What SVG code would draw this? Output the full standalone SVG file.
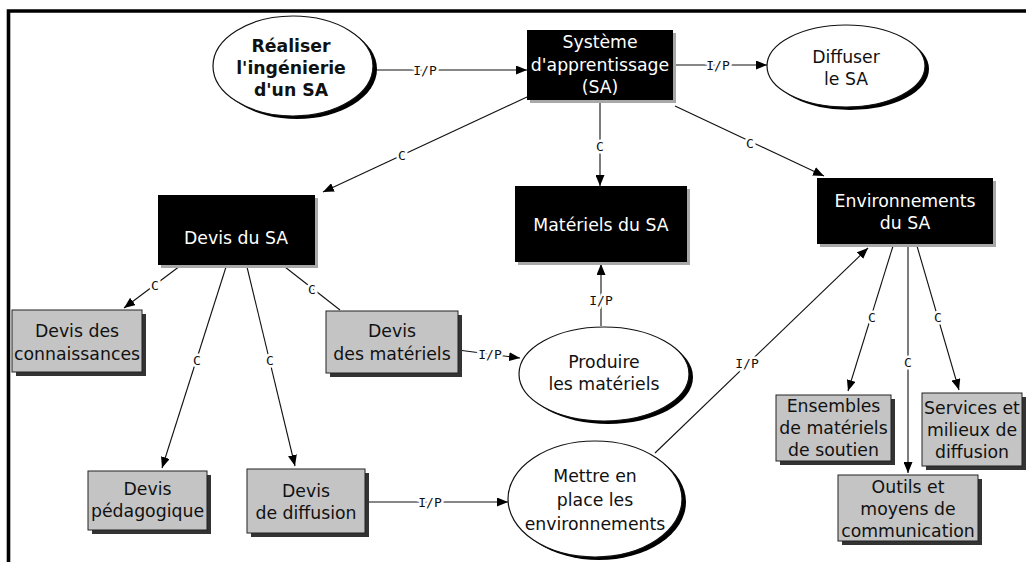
<svg xmlns="http://www.w3.org/2000/svg" width="1026" height="562" viewBox="0 0 1026 562">
<defs>
<marker id="ah" markerUnits="userSpaceOnUse" markerWidth="11" markerHeight="9" refX="11" refY="4.5" orient="auto">
<path d="M0,0 L11,4.5 L0,9 z" fill="#000"/>
</marker>
<style>
.t{font-family:"DejaVu Sans","Verdana",sans-serif;font-size:17.3px;text-anchor:middle;fill:#111}
.tw{font-family:"DejaVu Sans","Verdana",sans-serif;font-size:17.3px;text-anchor:middle;fill:#fff}
.tb{font-family:"DejaVu Sans","Verdana",sans-serif;font-size:17.3px;font-weight:bold;text-anchor:middle;fill:#111}
.blk{fill:#000}
.blks{fill:#a8a8a8}
.gry{fill:#c4c4c4;stroke:#222;stroke-width:1}
.gsh{fill:#333}
.ell{fill:#fff;stroke:#111;stroke-width:1.2}
.esh{fill:#000}
.c{fill:none;stroke:#111;stroke-width:1.1}
.ca{fill:none;stroke:#111;stroke-width:1.1;marker-end:url(#ah)}
.lbl{font-family:"DejaVu Sans Mono",monospace;font-size:13px;text-anchor:middle;dominant-baseline:central;fill:#111;stroke:#fff;stroke-width:5;paint-order:stroke}
</style>
</defs>
<rect width="1026" height="562" fill="#fff"/>
<path d="M8.5,562 V11 H1026" fill="none" stroke="#000" stroke-width="3.6"/>

<g id="connectors">
<path class="ca" d="M373,70 H527"/>
<path class="ca" d="M673,65 H767"/>
<path class="ca" d="M527,97 L323,192"/>
<path class="ca" d="M600,100 V186"/>
<path class="ca" d="M675,106 L824,176"/>
<path class="ca" d="M180,266 L124,308"/>
<path class="c" d="M285,267 L340,310"/>
<path class="ca" d="M226,267 L162,468"/>
<path class="ca" d="M247,267 L295,466"/>
<path class="ca" d="M458,350 L520,358"/>
<path class="ca" d="M601,326 V264"/>
<path class="ca" d="M365,502 H508"/>
<path class="ca" d="M655,453 L868,248"/>
<path class="ca" d="M893,246 L848,391"/>
<path class="ca" d="M908,246 V473"/>
<path class="ca" d="M917,246 L959,390"/>
<text class="lbl" x="425" y="70">I/P</text>
<text class="lbl" x="718" y="65">I/P</text>
<text class="lbl" x="402" y="155">C</text>
<text class="lbl" x="600" y="146">C</text>
<text class="lbl" x="750" y="143">C</text>
<text class="lbl" x="155" y="285">C</text>
<text class="lbl" x="312" y="289">C</text>
<text class="lbl" x="197" y="360">C</text>
<text class="lbl" x="270" y="360">C</text>
<text class="lbl" x="490" y="354">I/P</text>
<text class="lbl" x="601" y="300">I/P</text>
<text class="lbl" x="430" y="502">I/P</text>
<text class="lbl" x="747" y="363">I/P</text>
<text class="lbl" x="872" y="317">C</text>
<text class="lbl" x="908" y="362">C</text>
<text class="lbl" x="938" y="317">C</text>
</g>

<g id="realiser">
<ellipse class="esh" cx="297" cy="69" rx="80" ry="50"/>
<ellipse class="ell" cx="293" cy="66" rx="80" ry="50"/>
<text class="tb" x="291" y="52">Réaliser</text>
<text class="tb" x="291" y="74">l'ingénierie</text>
<text class="tb" x="291" y="96">d'un SA</text>
</g>

<g id="systeme">
<rect class="blks" x="530" y="33" width="146" height="70"/>
<rect class="blk" x="527" y="30" width="146" height="70"/>
<text class="tw" x="600" y="48">Système</text>
<text class="tw" x="600" y="71">d'apprentissage</text>
<text class="tw" x="600" y="93">(SA)</text>
</g>

<g id="diffuser">
<ellipse class="esh" cx="850" cy="69" rx="79" ry="41"/>
<ellipse class="ell" cx="846" cy="66" rx="79" ry="41"/>
<text class="t" x="846" y="63">Diffuser</text>
<text class="t" x="846" y="85">le SA</text>
</g>

<g id="devis-sa">
<rect class="blks" x="161" y="198" width="157" height="70"/>
<rect class="blk" x="158" y="195" width="157" height="70"/>
<text class="tw" x="236" y="244">Devis du SA</text>
</g>

<g id="materiels-sa">
<rect class="blks" x="518" y="189" width="172" height="76"/>
<rect class="blk" x="515" y="186" width="172" height="76"/>
<text class="tw" x="601" y="231">Matériels du SA</text>
</g>

<g id="environnements-sa">
<rect class="blks" x="820" y="181" width="176" height="66"/>
<rect class="blk" x="817" y="178" width="176" height="66"/>
<text class="tw" x="905" y="207">Environnements</text>
<text class="tw" x="905" y="229">du SA</text>
</g>

<g id="devis-connaissances">
<rect class="gsh" x="16" y="314" width="130" height="62"/>
<rect class="gry" x="12" y="310" width="130" height="62"/>
<text class="t" x="77" y="337">Devis des</text>
<text class="t" x="77" y="360">connaissances</text>
</g>

<g id="devis-materiels">
<rect class="gsh" x="330" y="315" width="132" height="62"/>
<rect class="gry" x="326" y="311" width="132" height="62"/>
<text class="t" x="392" y="337">Devis</text>
<text class="t" x="392" y="360">des matériels</text>
</g>

<g id="devis-pedagogique">
<rect class="gsh" x="92" y="475" width="119" height="59"/>
<rect class="gry" x="88" y="471" width="119" height="59"/>
<text class="t" x="147.5" y="495">Devis</text>
<text class="t" x="147.5" y="517">pédagogique</text>
</g>

<g id="devis-diffusion">
<rect class="gsh" x="251" y="473" width="118" height="64"/>
<rect class="gry" x="247" y="469" width="118" height="64"/>
<text class="t" x="306" y="497">Devis</text>
<text class="t" x="306" y="519">de diffusion</text>
</g>

<g id="produire">
<ellipse class="esh" cx="608" cy="377" rx="85" ry="47"/>
<ellipse class="ell" cx="604" cy="374" rx="85" ry="47"/>
<text class="t" x="604" y="368">Produire</text>
<text class="t" x="604" y="390">les matériels</text>
</g>

<g id="mettre">
<ellipse class="esh" cx="599" cy="502" rx="87" ry="58"/>
<ellipse class="ell" cx="595" cy="499" rx="87" ry="58"/>
<text class="t" x="595" y="482">Mettre en</text>
<text class="t" x="595" y="506">place les</text>
<text class="t" x="595" y="530">environnements</text>
</g>

<g id="ensembles">
<rect class="gsh" x="780" y="399" width="115" height="66"/>
<rect class="gry" x="776" y="395" width="115" height="66"/>
<text class="t" x="833.5" y="412">Ensembles</text>
<text class="t" x="833.5" y="434">de matériels</text>
<text class="t" x="833.5" y="456">de soutien</text>
</g>

<g id="services">
<rect class="gsh" x="926" y="397" width="100" height="73"/>
<rect class="gry" x="922" y="393" width="100" height="73"/>
<text class="t" x="972" y="414">Services et</text>
<text class="t" x="972" y="436">milieux de</text>
<text class="t" x="972" y="458">diffusion</text>
</g>

<g id="outils">
<rect class="gsh" x="842" y="479" width="140" height="66"/>
<rect class="gry" x="838" y="475" width="140" height="66"/>
<text class="t" x="908" y="493">Outils et</text>
<text class="t" x="908" y="515">moyens de</text>
<text class="t" x="908" y="537">communication</text>
</g>
</svg>
